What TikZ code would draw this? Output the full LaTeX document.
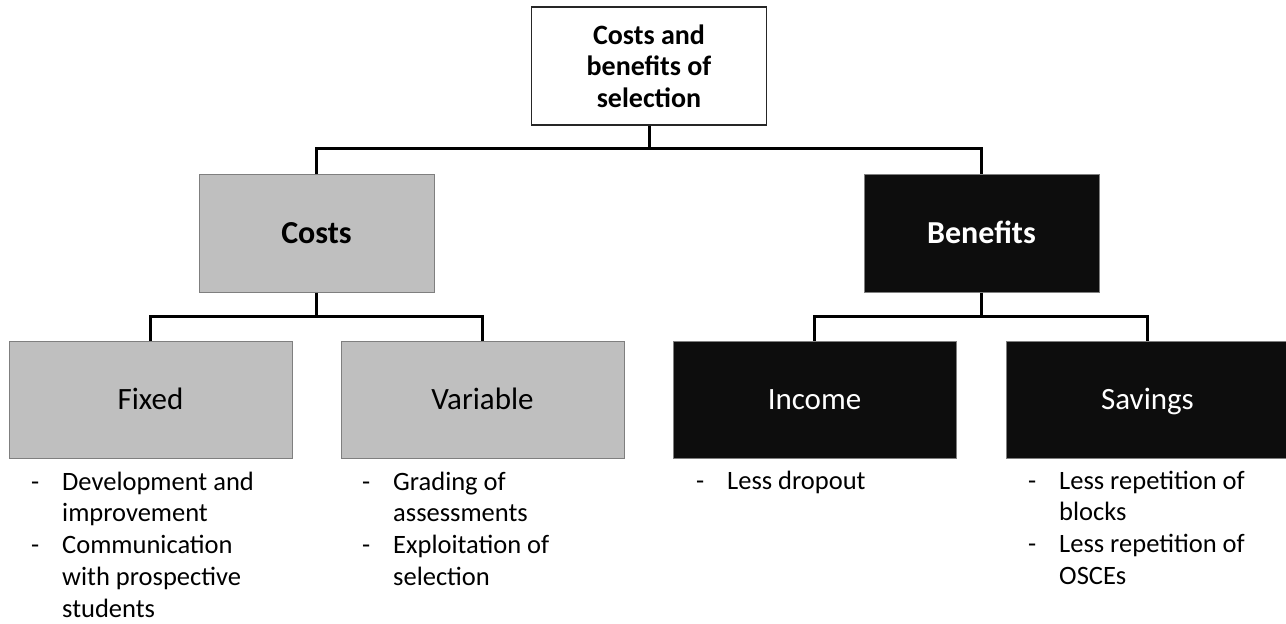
\documentclass[tikz,border=0pt]{standalone}
\usepackage{fontspec}
\setmainfont{Carlito}
\definecolor{boxgray}{HTML}{BFBFBF}
\definecolor{edgegray}{HTML}{7F7F7F}
\definecolor{boxblack}{HTML}{0D0D0D}
\begin{document}
\begin{tikzpicture}[x=1pt,y=-1pt,
  rootbox/.style={draw=black!85,line width=1.3pt,fill=white,minimum width=235pt,minimum height=118pt,inner sep=0pt,align=center,font=\fontsize{28}{31.5}\selectfont\bfseries},
  midgray/.style={draw=edgegray,line width=1pt,fill=boxgray,minimum width=235pt,minimum height=118pt,inner sep=0pt,text height=21pt,text depth=0pt,font=\fontsize{32}{36}\selectfont\bfseries},
  midblack/.style={draw=edgegray,line width=1pt,fill=boxblack,text=white,minimum width=235pt,minimum height=118pt,inner sep=0pt,text height=21pt,text depth=0pt,font=\fontsize{32}{36}\selectfont\bfseries},
  leafgray/.style={draw=edgegray,line width=1pt,fill=boxgray,minimum width=283pt,minimum height=117pt,inner sep=0pt,text height=20pt,text depth=0pt,font=\fontsize{31}{36}\selectfont},
  leafblack/.style={draw=edgegray,line width=1pt,fill=boxblack,text=white,minimum width=283pt,minimum height=117pt,inner sep=0pt,text height=20pt,text depth=0pt,font=\fontsize{31}{36}\selectfont},
  itemlist/.style={anchor=base west,inner sep=0pt,align=left,font=\fontsize{26.5}{31.8}\selectfont},
  conn/.style={draw=black,line width=3pt}
]
\useasboundingbox (0,0) rectangle (1286,624);
\fill[white] (0,0) rectangle (1286,624);

\node[rootbox] (root) at (649,66) {Costs and\\benefits of\\selection};
\node[midgray] (costs) at (316.5,233) {Costs};
\node[midblack] (benefits) at (981.5,233) {Benefits};
\node[leafgray] (fixed) at (150.5,399.5) {Fixed};
\node[leafgray] (variable) at (482.5,399.5) {Variable};
\node[leafblack] (income) at (814.5,399.5) {Income};
\node[leafblack] (savings) at (1147.5,399.5) {Savings};

\coordinate (bar1) at (0,148);
\coordinate (bar2) at (0,316);

\draw[conn] (root.south) -- (root.south |- bar1) -| (costs.north);
\draw[conn] (root.south |- bar1) -| (benefits.north);
\draw[conn] (costs.south) -- (costs.south |- bar2) -| (fixed.north);
\draw[conn] (costs.south |- bar2) -| (variable.north);
\draw[conn] (benefits.south) -- (benefits.south |- bar2) -| (income.north);
\draw[conn] (benefits.south |- bar2) -| (savings.north);

% anchor base west = baseline of the last line
\node[itemlist] (fixedlist) at (31,617.2) {\makebox[31pt][l]{-}Development and\\\hspace*{31pt}improvement\\\makebox[31pt][l]{-}Communication\\\hspace*{31pt}with prospective\\\hspace*{31pt}students};
\node[itemlist] (variablelist) at (362,585.4) {\makebox[31pt][l]{-}Grading of\\\hspace*{31pt}assessments\\\makebox[31pt][l]{-}Exploitation of\\\hspace*{31pt}selection};
\node[itemlist] (incomelist) at (696,489) {\makebox[31pt][l]{-}Less dropout};
\node[itemlist] (savingslist) at (1028,584.4) {\makebox[31pt][l]{-}Less repetition of\\\hspace*{31pt}blocks\\\makebox[31pt][l]{-}Less repetition of\\\hspace*{31pt}OSCEs};
\end{tikzpicture}
\end{document}
